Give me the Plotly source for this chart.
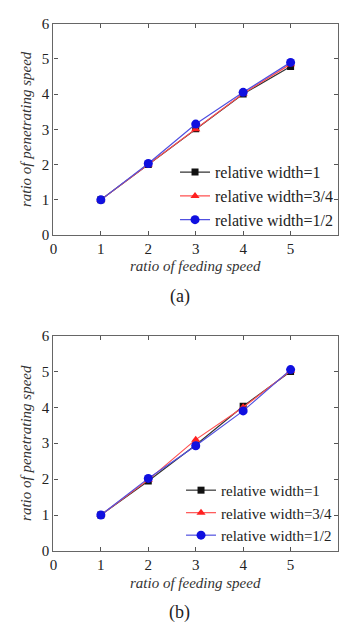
import plotly.graph_objects as go

feeding = [1, 2, 3, 4, 5]
series_names = ["relative width=1", "relative width=3/4", "relative width=1/2"]
a_w1 = [1.0, 2.0, 3.02, 4.0, 4.78]
a_w34 = [1.0, 2.0, 3.0, 4.02, 4.85]
a_w12 = [1.0, 2.03, 3.15, 4.05, 4.9]
b_w1 = [1.0, 1.95, 2.95, 4.03, 5.0]
b_w34 = [1.0, 1.98, 3.1, 4.0, 5.02]
b_w12 = [1.0, 2.02, 2.93, 3.9, 5.05]
tick_vals = [0, 1, 2, 3, 4, 5, 6]

colors = ["#111111", "#ff2020", "#1010e0"]
line_colors = ["#333333", "#ff5050", "#5050e0"]
symbols = ["square", "triangle-up", "circle"]
msizes = [7, 8, 9]

W, H = 340, 633
fig = go.Figure()

panels = [
    (a_w1, a_w34, a_w12, "x", "y", "legend"),
    (b_w1, b_w34, b_w12, "x2", "y2", "legend2"),
]
for vals_list, xa, ya, lg in [(p[:3], p[3], p[4], p[5]) for p in panels]:
    for i, vals in enumerate(vals_list):
        fig.add_trace(go.Scatter(
            x=feeding, y=vals, mode="lines+markers", name=series_names[i],
            xaxis=xa, yaxis=ya, legend=lg,
            line=dict(color=line_colors[i], width=1.2),
            marker=dict(symbol=symbols[i], size=msizes[i], color=colors[i]),
        ))

font_serif = "Liberation Serif"
axis_common = dict(
    range=[0, 6], tickvals=tick_vals, ticks="inside", ticklen=4, tickcolor="#555",
    showline=True, linecolor="#666", linewidth=1.2, mirror="ticks",
    showgrid=False, zeroline=False,
    tickfont=dict(family=font_serif, size=15, color="#222"),
)
x0, x1 = 50 / W, 338 / W
ya0, ya1 = 1 - 233 / H, 1 - 16 / H
yb0, yb1 = 1 - 557 / H, 1 - 336 / H

title_font = dict(family=font_serif, size=15, color="#333", style="italic")
legend_common = dict(xanchor="right", yanchor="top", bgcolor="rgba(0,0,0,0)",
                     tracegroupgap=0, itemwidth=30)


def ann(text, px, py, font):
    return dict(text=text, x=px / W, y=1 - py / H, xref="paper", yref="paper",
                xanchor="center", yanchor="middle", showarrow=False, font=font)


label_font = dict(family=font_serif, size=18, color="#222")
fig.update_layout(
    width=W, height=H, margin=dict(l=0, r=0, t=0, b=0),
    paper_bgcolor="white", plot_bgcolor="white",
    showlegend=True,
    xaxis=dict(**axis_common, domain=[x0, x1], anchor="y"),
    yaxis=dict(**axis_common, domain=[ya0, ya1], anchor="x",
               title=dict(text="ratio of penetrating speed", font=title_font, standoff=6)),
    xaxis2=dict(**axis_common, domain=[x0, x1], anchor="y2"),
    yaxis2=dict(**axis_common, domain=[yb0, yb1], anchor="x2",
                title=dict(text="ratio of penetrating speed", font=title_font, standoff=6)),
    legend=dict(**legend_common, x=338 / W, y=1 - 151 / H,
                font=dict(family=font_serif, size=16, color="#222")),
    legend2=dict(**legend_common, x=338 / W, y=1 - 478 / H,
                 font=dict(family=font_serif, size=15, color="#222")),
    annotations=[
        ann("ratio of feeding speed", 194, 265, title_font),
        ann("ratio of feeding speed", 194, 590, title_font),
        ann("(a)", 178, 296, label_font),
        ann("(b)", 178, 620, label_font),
    ],
)

fig.write_html("out.html")
